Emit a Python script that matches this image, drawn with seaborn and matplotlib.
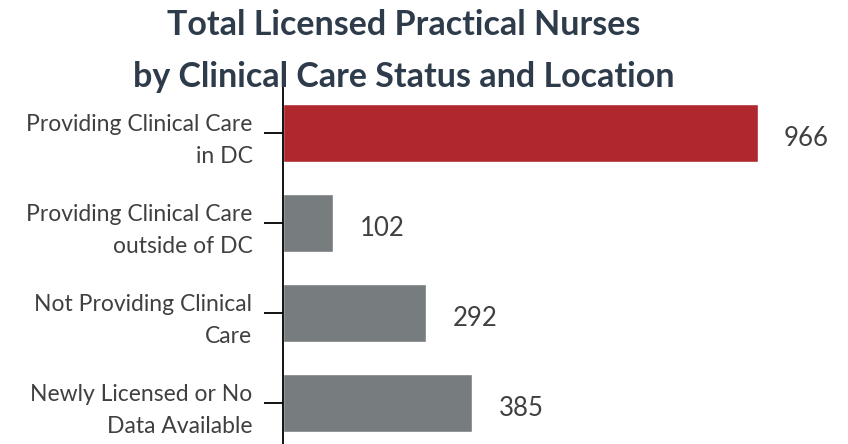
import pandas as pd
import matplotlib.pyplot as plt
import seaborn as sns

categories = ["Providing Clinical Care\nin DC",
              "Providing Clinical Care\noutside of DC",
              "Not Providing Clinical\nCare",
              "Newly Licensed or No\nData Available"]
counts = [966, 102, 292, 385]
colors = ["#AF282D", "#777C7E", "#777C7E", "#777C7E"]

df = pd.DataFrame({"status": categories, "count": counts})

sns.set_style("white")
plt.rcParams["font.family"] = ["Lato", "DejaVu Sans"]

fig = plt.figure(figsize=(8.48, 4.44), dpi=100)
ax = fig.add_axes([0.3337, 0.0, 0.6663, 0.804])

sns.barplot(data=df, x="count", y="status", hue="status", palette=colors,
            legend=False, width=0.64, orient="h", ax=ax, saturation=1)

ax.set_xlim(0, 1150)
ax.set_ylim(3.456, -0.511)
ax.set_xlabel("")
ax.set_ylabel("")
ax.set_xticks([])

for sp in ["top", "right", "bottom"]:
    ax.spines[sp].set_visible(False)
ax.spines["left"].set_color("black")
ax.spines["left"].set_linewidth(1.3)

ax.tick_params(axis="y", left=True, length=14, width=1.3, color="black",
               pad=8, labelsize=16.5, labelcolor="#404040")
for lbl in ax.get_yticklabels():
    lbl.set_linespacing(1.62)
    lbl.set_horizontalalignment("right")
    lbl.set_multialignment("right")

# value labels
for i, v in enumerate(counts):
    ax.annotate(f"{v}", xy=(v, i), xytext=(19, -4), textcoords="offset points",
                ha="left", va="center", fontsize=18.5, color="#404040")

fig.text(0.476, 0.885, "Total Licensed Practical Nurses\nby Clinical Care Status and Location",
         ha="center", va="center", fontsize=24.5, fontweight="bold",
         color="#2E3B4A", linespacing=1.8)

fig.savefig("out.png", dpi=100)
